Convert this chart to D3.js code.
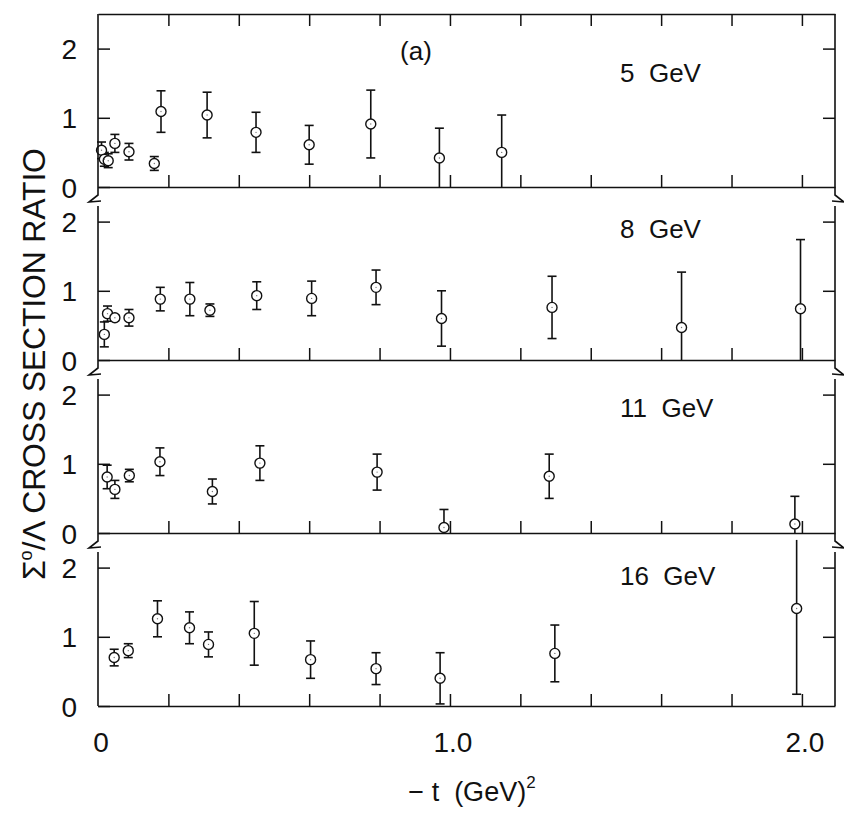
<!DOCTYPE html>
<html>
<head>
<meta charset="utf-8">
<script src="https://cdn.jsdelivr.net/npm/d3@7"></script>
<style>
  body { margin: 0; background: #fff; }
  text { font-family: "Liberation Sans", Arial, sans-serif; fill: #111; }
</style>
</head>
<body>
<script>
// data: -t (GeV^2), ratio, error
const t5  = [0.010, 0.018, 0.029, 0.048, 0.088, 0.160, 0.179, 0.310, 0.449, 0.600, 0.775, 0.970, 1.147];
const r5  = [0.53, 0.40, 0.38, 0.63, 0.51, 0.34, 1.09, 1.04, 0.79, 0.61, 0.91, 0.42, 0.50];
const e5  = [0.12, 0.10, 0.10, 0.13, 0.12, 0.10, 0.30, 0.33, 0.29, 0.28, 0.49, 0.43, 0.54];

const t8  = [0.018, 0.027, 0.048, 0.088, 0.177, 0.261, 0.318, 0.451, 0.607, 0.790, 0.976, 1.290, 1.658, 1.996];
const r8  = [0.37, 0.67, 0.61, 0.61, 0.88, 0.88, 0.72, 0.93, 0.89, 1.05, 0.60, 0.76, 0.47, 0.74];
const e8  = [0.18, 0.11, 0.04, 0.12, 0.17, 0.24, 0.09, 0.20, 0.25, 0.25, 0.40, 0.45, 0.80, 1.00];

const t11 = [0.026, 0.048, 0.089, 0.176, 0.325, 0.460, 0.793, 0.983, 1.282, 1.980];
const r11 = [0.81, 0.63, 0.83, 1.03, 0.60, 1.01, 0.88, 0.08, 0.82, 0.13];
const e11 = [0.17, 0.13, 0.09, 0.20, 0.18, 0.25, 0.26, 0.26, 0.32, 0.40];

const t16 = [0.046, 0.086, 0.169, 0.260, 0.314, 0.444, 0.604, 0.790, 0.972, 1.298, 1.985];
const r16 = [0.70, 0.80, 1.26, 1.13, 0.89, 1.05, 0.67, 0.54, 0.40, 0.76, 1.41];
const e16 = [0.12, 0.10, 0.26, 0.23, 0.18, 0.46, 0.27, 0.23, 0.37, 0.41, 1.24];

const panelLabels = ['5  GeV', '8  GeV', '11  GeV', '16  GeV'];
const xTickValues = [0.2, 0.4, 0.6, 0.8, 1.0, 1.2, 1.4, 1.6, 1.8, 2.0];
const xLabelValues = [0, 1.0, 2.0];
const xLabelText = ['0', '1.0', '2.0'];
const yTickValues = [1, 2];
const yLabelValues = [0, 1, 2];

const panels = [
  {t: t5, r: r5, e: e5},
  {t: t8, r: r8, e: e8},
  {t: t11, r: r11, e: e11},
  {t: t16, r: r16, e: e16}
].map((p, i) => ({...p, label: panelLabels[i]}));

// layout
const W = 844, H = 820;
const plotLeft = 98, plotRight = 835, plotTop = 14, panelH = 173;
const yMax = 2.5, yClip = 2.4;
const labelDy = [68, 51, 57, 52];

const svg = d3.select('body').append('svg')
  .attr('width', W).attr('height', H);

const x = d3.scaleLinear().domain([0, 2.094]).range([plotLeft, plotRight]);

const ink = '#111';

// top frame with downward ticks
svg.append('g').attr('transform', `translate(0,${plotTop})`)
  .call(d3.axisTop(x).tickValues(xTickValues).tickSize(-12).tickSizeOuter(0).tickFormat(''));

panels.forEach((p, i) => {
  const y0 = plotTop + (i + 1) * panelH;
  const y1 = plotTop + i * panelH;
  const y = d3.scaleLinear().domain([0, yMax]).range([y0, y1]);
  const g = svg.append('g');

  // baseline with upward ticks
  g.append('g').attr('transform', `translate(0,${y0})`)
    .call(d3.axisBottom(x).tickValues(xTickValues).tickSize(-12).tickSizeOuter(0).tickFormat(''));

  // left ticks + labels
  const gl = g.append('g').attr('transform', `translate(${plotLeft},0)`)
    .call(d3.axisLeft(y).tickValues(yLabelValues).tickSize(-12).tickPadding(21).tickFormat(d3.format('d')));
  gl.select('.domain').remove();
  gl.selectAll('text').attr('font-size', 28).attr('dy', '0.36em');

  // right ticks
  const gr = g.append('g').attr('transform', `translate(${plotRight},0)`)
    .call(d3.axisRight(y).tickValues(yTickValues).tickSize(-12).tickFormat(''));
  gr.select('.domain').remove();

  // error bars
  const pts = p.t.map((t, k) => ({t, r: p.r[k], e: p.e[k]}));
  const eb = g.selectAll('g.eb').data(pts).join('g').attr('class', 'eb');
  eb.append('line')
    .attr('x1', d => x(d.t)).attr('x2', d => x(d.t))
    .attr('y1', d => y(Math.max(0, d.r - d.e)))
    .attr('y2', d => y(Math.min(yClip, d.r + d.e)))
    .attr('stroke', ink).attr('stroke-width', 1.6);
  eb.filter(d => d.r + d.e < yClip).append('line')
    .attr('x1', d => x(d.t) - 4.5).attr('x2', d => x(d.t) + 4.5)
    .attr('y1', d => y(d.r + d.e)).attr('y2', d => y(d.r + d.e))
    .attr('stroke', ink).attr('stroke-width', 1.6);
  eb.filter(d => d.r - d.e > 0.02).append('line')
    .attr('x1', d => x(d.t) - 4.5).attr('x2', d => x(d.t) + 4.5)
    .attr('y1', d => y(d.r - d.e)).attr('y2', d => y(d.r - d.e))
    .attr('stroke', ink).attr('stroke-width', 1.6);

  // open circles
  g.selectAll('circle.pt').data(pts).join('circle').attr('class', 'pt')
    .attr('cx', d => x(d.t)).attr('cy', d => y(d.r)).attr('r', 5)
    .attr('fill', '#fff').attr('stroke', ink).attr('stroke-width', 1.4);
  g.selectAll('circle.dot').data(pts).join('circle').attr('class', 'dot')
    .attr('cx', d => x(d.t)).attr('cy', d => y(d.r)).attr('r', 0.7)
    .attr('fill', '#777');

  g.append('text')
    .attr('x', 620).attr('y', y1 + labelDy[i])
    .attr('font-size', 26).style('white-space', 'pre')
    .text(p.label);
});

svg.selectAll('.tick line').attr('stroke', ink).attr('stroke-width', 1.5);
svg.selectAll('.domain').attr('stroke', ink).attr('stroke-width', 1.6);

// broken spines on both sides
const junctions = [1, 2, 3].map(i => plotTop + i * panelH);
function spine(xp, dir) {
  let d = `M${xp},${plotTop}`;
  junctions.forEach(j => {
    d += ` L${xp},${j + 8} L${xp - 9 * dir},${j + 15} L${xp + 3 * dir},${j + 14}`;
    d += ` M${xp},${j + 19}`;
  });
  d += ` L${xp},${plotTop + 4 * panelH}`;
  return d;
}
svg.append('path').attr('d', spine(plotLeft, 1))
  .attr('fill', 'none').attr('stroke', ink).attr('stroke-width', 1.6);
svg.append('path').attr('d', spine(plotRight, -1))
  .attr('fill', 'none').attr('stroke', ink).attr('stroke-width', 1.6);

// "(a)"
svg.append('text').attr('x', 416).attr('y', 60)
  .attr('text-anchor', 'middle').attr('font-size', 26).text('(a)');

// x labels
svg.append('g').selectAll('text').data(xLabelValues).join('text')
  .attr('x', d => x(d) + 3).attr('y', 752)
  .attr('text-anchor', 'middle').attr('font-size', 28)
  .text((d, i) => xLabelText[i]);

// x title
const xt = svg.append('text').attr('x', 472).attr('y', 801)
  .attr('text-anchor', 'middle').attr('font-size', 27).style('white-space', 'pre');
xt.append('tspan').text('− t  (GeV)');
xt.append('tspan').attr('font-size', 17).attr('dy', -13).text('2');

// y title
const yt = svg.append('text')
  .attr('transform', 'translate(45,364) rotate(-90)')
  .attr('text-anchor', 'middle').attr('font-size', 32)
  .attr('textLength', 432).attr('lengthAdjust', 'spacing');
yt.append('tspan').text('Σ');
yt.append('tspan').attr('font-size', 18).attr('dy', -13).text('o');
yt.append('tspan').attr('dy', 13).text('/Λ  CROSS  SECTION  RATIO');
</script>
</body>
</html>
